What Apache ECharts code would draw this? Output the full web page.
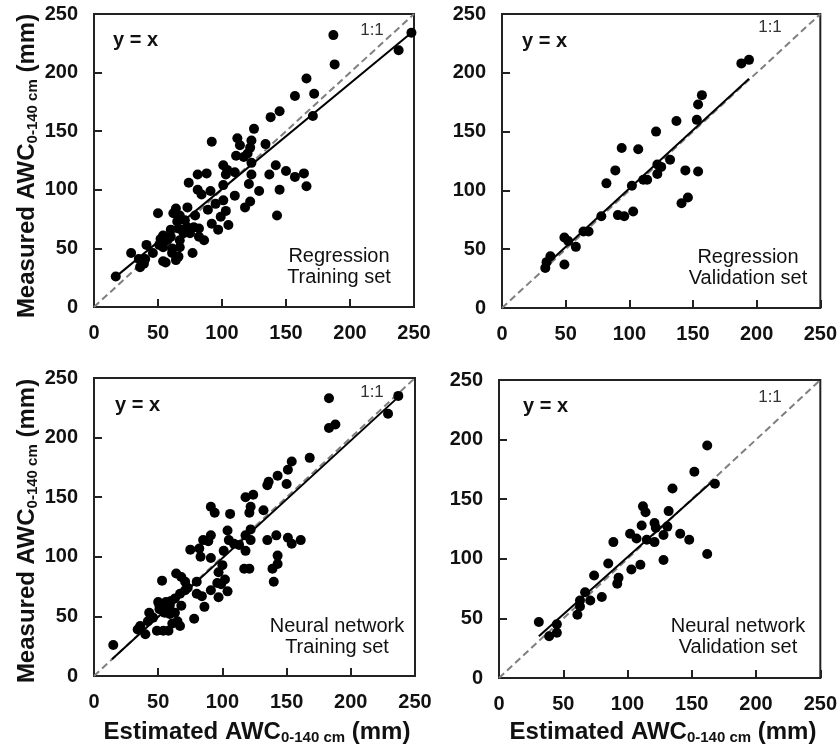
<!DOCTYPE html>
<html>
<head>
<meta charset="utf-8">
<script src="https://cdn.jsdelivr.net/npm/echarts@6/dist/echarts.min.js"></script>
<style>
  html, body { margin: 0; padding: 0; background: #fff; }
  #chart { width: 840px; height: 747px; }
</style>
</head>
<body>
<div id="chart"></div>
<script>
// Shared axis ticks (mm)
const axisTicks = [0, 50, 100, 150, 200, 250];

// 1:1 reference line
const oneToOne = [[0, 0], [250, 250]];

// Regression model, training set: [estimated, measured]
const regTrain = [
  [187,232],[248,234],[238,219],[188,207],[166,195],[172,182],[157,180],[171,163],[145,167],[138,162],
  [125,152],[112,144],[92,141],[114,138],[123,142],[134,139],[122,136],[111,129],[117,128],[120,131],
  [123,123],[101,121],[104,117],[110,115],[103,113],[123,113],[142,121],[137,113],[150,116],[157,111],
  [164,114],[166,103],[145,100],[143,78],[129,99],[121,105],[122,90],[118,85],[110,95],[101,104],
  [101,91],[103,82],[99,77],[105,70],[97,66],[91,99],[88,114],[81,113],[74,106],[81,100],
  [84,96],[95,88],[89,83],[92,71],[79,78],[73,85],[64,84],[62,80],[50,80],[67,78],
  [71,74],[65,73],[60,66],[66,67],[73,68],[78,68],[82,67],[82,60],[86,57],[67,57],
  [75,63],[70,63],[54,61],[58,58],[54,51],[51,53],[61,50],[67,51],[61,46],[66,43],
  [64,40],[56,38],[54,39],[77,46],[46,46],[41,53],[29,46],[35,41],[40,41],[36,34],
  [39,37],[17,26],[60,60],[57,57],[52,58],[69,66]
];
const regTrainFit = [[15, 24], [248, 234]];

// Regression model, validation set
const regValid = [
  [188,208],[194,211],[157,181],[154,173],[153,160],[137,159],[121,150],[94,136],[107,135],[89,117],
  [82,106],[102,104],[111,109],[114,109],[122,114],[125,120],[122,122],[132,126],[144,117],[154,116],
  [141,89],[146,94],[91,79],[96,78],[103,82],[78,78],[64,65],[68,65],[49,60],[52,57],
  [58,52],[49,37],[34,34],[35,39],[38,44]
];
const regValidFit = [[33, 35], [194, 195]];

// Neural network, training set
const nnTrain = [
  [183,233],[237,235],[229,220],[183,208],[188,211],[168,183],[154,180],[151,173],[150,161],[143,168],
  [136,163],[135,160],[124,152],[118,150],[122,142],[121,137],[132,139],[91,142],[94,137],[106,136],
  [91,118],[85,114],[89,113],[104,122],[105,114],[109,111],[113,110],[118,118],[122,123],[122,114],
  [118,105],[135,114],[142,118],[151,116],[154,111],[161,114],[143,101],[143,94],[139,90],[140,79],
  [75,106],[82,107],[83,100],[91,99],[101,105],[100,93],[97,87],[102,81],[99,77],[96,78],
  [104,71],[97,66],[91,72],[117,90],[121,90],[64,86],[68,83],[71,79],[73,74],[80,79],
  [80,69],[84,67],[86,58],[71,72],[67,69],[63,65],[60,63],[53,80],[50,62],[54,60],
  [56,58],[59,59],[51,56],[55,53],[59,52],[63,53],[68,59],[65,46],[67,42],[78,48],
  [49,38],[54,38],[58,38],[61,44],[43,53],[46,49],[42,46],[36,42],[34,39],[40,35],
  [15,26],[51,59],[56,62]
];
const nnTrainFit = [[14, 14], [238, 235]];

// Neural network, validation set
const nnValid = [
  [162,195],[152,173],[168,163],[135,159],[112,144],[114,139],[132,140],[111,128],[121,130],[122,126],
  [131,127],[102,121],[107,117],[115,116],[121,114],[128,120],[141,121],[148,116],[89,114],[128,99],
  [162,104],[85,96],[103,91],[110,95],[74,86],[93,84],[92,79],[67,72],[63,65],[71,65],
  [80,68],[63,60],[61,53],[31,47],[45,45],[39,35],[45,38]
];
const nnValidFit = [[31, 35], [165, 164]];

const FONT = '"Liberation Sans", Arial, sans-serif';
const INK = '#111';

const panels = [
  { grid: { left: 94,  top: 14,  width: 320, height: 293 }, pts: regTrain, fit: regTrainFit,
    label: 'Regression\nTraining set', lx: 339, ly: 267, yx: [113, 40], one: [372, 30] },
  { grid: { left: 502, top: 14,  width: 320, height: 294 }, pts: regValid, fit: regValidFit,
    label: 'Regression\nValidation set', lx: 748, ly: 268, yx: [522, 41], one: [770, 27] },
  { grid: { left: 94,  top: 378, width: 321, height: 298 }, pts: nnTrain, fit: nnTrainFit,
    label: 'Neural network\nTraining set', lx: 337, ly: 637, yx: [115, 405], one: [372, 392] },
  { grid: { left: 499, top: 380, width: 322, height: 298 }, pts: nnValid, fit: nnValidFit,
    label: 'Neural network\nValidation set', lx: 738, ly: 637, yx: [523, 406], one: [770, 397] }
];

function valueAxis(i) {
  return {
    type: 'value', gridIndex: i,
    min: axisTicks[0], max: axisTicks[axisTicks.length - 1], interval: axisTicks[1] - axisTicks[0],
    axisLine: { show: false },
    axisTick: { show: true, inside: true, length: 8, lineStyle: { color: '#222', width: 2 } },
    splitLine: { show: false },
    axisLabel: { fontFamily: FONT, fontSize: 20, fontWeight: 'bold', color: INK, margin: 16 }
  };
}

const grids = [], xAxes = [], yAxes = [], series = [], graphics = [];

panels.forEach((p, i) => {
  grids.push(Object.assign({ show: true, borderColor: '#222', borderWidth: 2, backgroundColor: 'transparent' }, p.grid));
  xAxes.push(valueAxis(i));
  yAxes.push(valueAxis(i));
  series.push({
    type: 'line', xAxisIndex: i, yAxisIndex: i, data: oneToOne, symbol: 'none', silent: true,
    lineStyle: { color: '#7f7f7f', width: 2, type: [7, 4] }, z: 2
  });
  series.push({
    type: 'line', xAxisIndex: i, yAxisIndex: i, data: p.fit, symbol: 'none', silent: true,
    lineStyle: { color: '#000', width: 2 }, z: 3
  });
  series.push({
    type: 'scatter', xAxisIndex: i, yAxisIndex: i, data: p.pts, symbol: 'circle', symbolSize: 10,
    itemStyle: { color: '#000', opacity: 1 }, z: 4
  });
  graphics.push({
    type: 'text', x: p.yx[0], y: p.yx[1],
    style: { text: 'y = x', fontFamily: FONT, fontSize: 20, fontWeight: 'bold', fill: INK, align: 'left', verticalAlign: 'middle' }
  });
  graphics.push({
    type: 'text', x: p.one[0], y: p.one[1],
    style: { text: '1:1', fontFamily: FONT, fontSize: 17, fill: '#333', align: 'center', verticalAlign: 'middle' }
  });
  graphics.push({
    type: 'text', x: p.lx, y: p.ly,
    style: { text: p.label, fontFamily: FONT, fontSize: 20, lineHeight: 21, fill: INK, align: 'center', verticalAlign: 'middle' }
  });
});

// Axis titles with subscripted depth range
const titleRich = {
  m: { fontFamily: FONT, fontSize: 24, fontWeight: 'bold', fill: INK },
  s: { fontFamily: FONT, fontSize: 15, fontWeight: 'bold', fill: INK, padding: [12, 0, 0, 0] }
};
function axisTitle(x, y, label, vertical) {
  return {
    type: 'text', x: x, y: y, rotation: vertical ? Math.PI / 2 : 0,
    style: {
      text: '{m|' + label + ' AWC}{s|0-140 cm}{m| (mm)}',
      rich: titleRich, align: 'center', verticalAlign: 'middle'
    }
  };
}
graphics.push(axisTitle(27, 166, 'Measured', true));
graphics.push(axisTitle(27, 531, 'Measured', true));
graphics.push(axisTitle(257, 732, 'Estimated', false));
graphics.push(axisTitle(663, 732, 'Estimated', false));

const chart = echarts.init(document.getElementById('chart'), null, { renderer: 'canvas' });
chart.setOption({
  backgroundColor: '#fff',
  animation: false,
  grid: grids,
  xAxis: xAxes,
  yAxis: yAxes,
  series: series,
  graphic: graphics
});
</script>
</body>
</html>
